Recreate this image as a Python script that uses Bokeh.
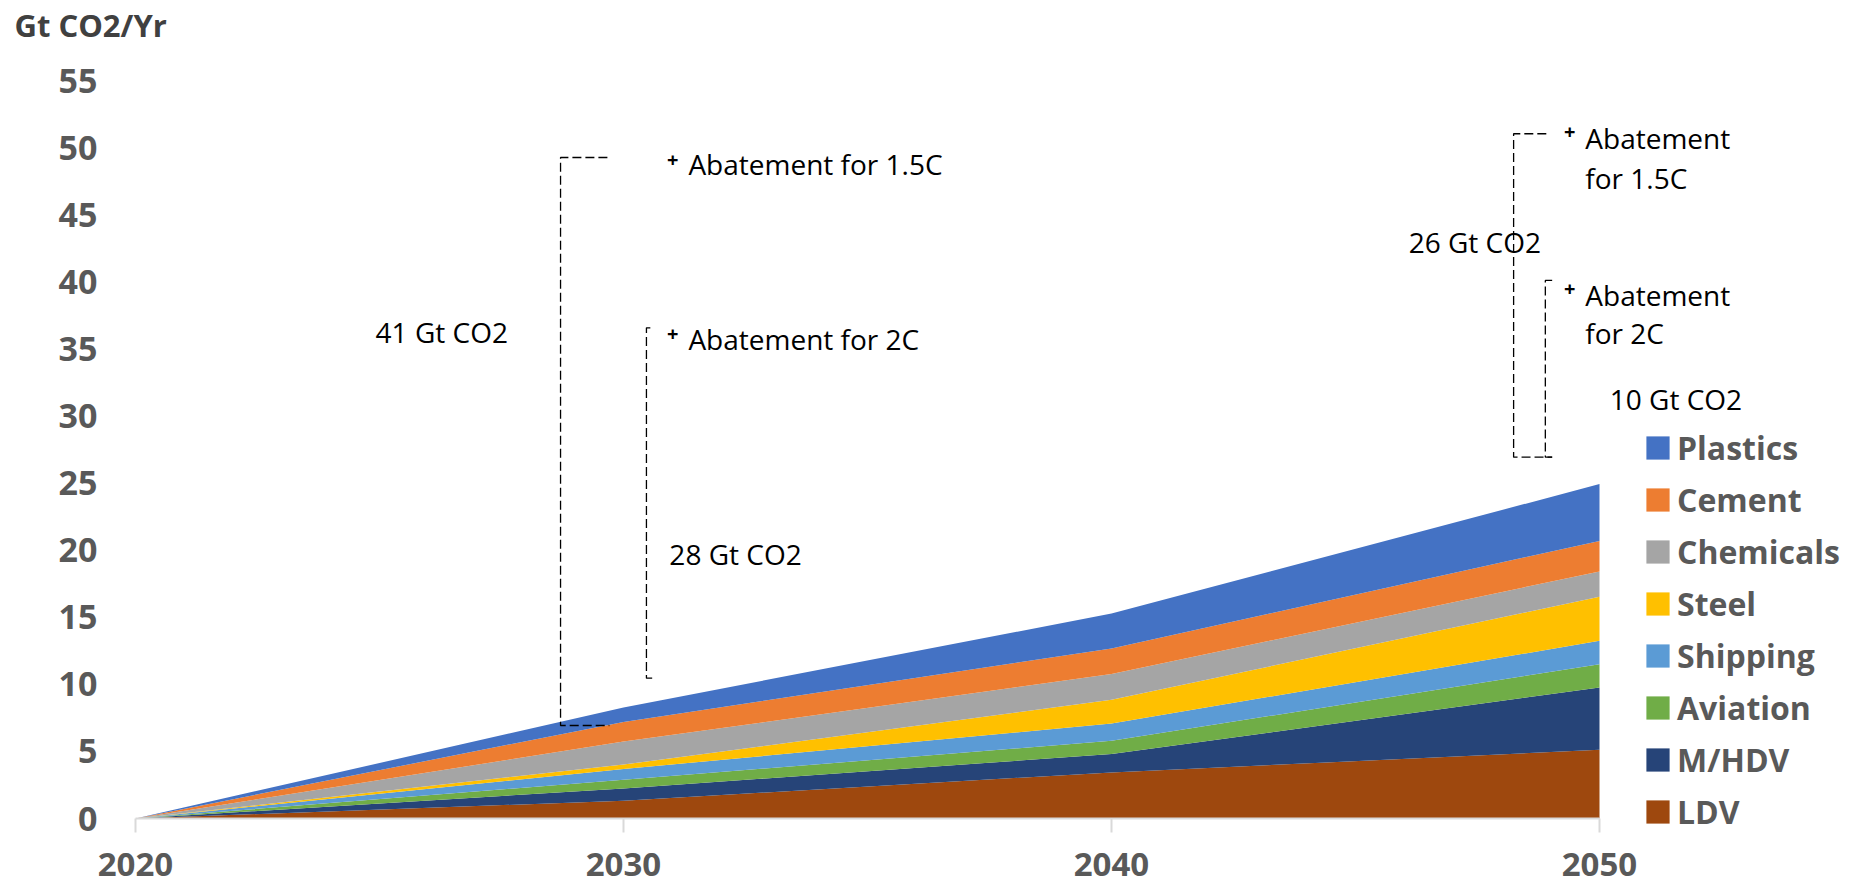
from bokeh.plotting import figure
from bokeh.models import Range1d, FixedTicker, Label, Legend, LegendItem, ColumnDataSource
from bokeh.embed import file_html
from bokeh.resources import INLINE

# ---------------- data ----------------
YEARS = [2020, 2030, 2040, 2050]
SECTORS = ["LDV", "M/HDV", "Aviation", "Shipping", "Steel", "Chemicals", "Cement", "Plastics"]
LDV = [0, 1.33, 3.43, 5.12]
MHDV = [0, 0.91, 1.37, 4.64]
AVIATION = [0, 0.64, 0.99, 1.74]
SHIPPING = [0, 0.81, 1.29, 1.74]
STEEL = [0, 0.33, 1.77, 3.28]
CHEMICALS = [0, 1.71, 1.91, 1.89]
CEMENT = [0, 1.47, 1.91, 2.28]
PLASTICS = [0, 1.07, 2.61, 4.23]
SERIES = [LDV, MHDV, AVIATION, SHIPPING, STEEL, CHEMICALS, CEMENT, PLASTICS]
COLORS = ["#9E480E", "#264478", "#70AD47", "#5B9BD5", "#FFC000", "#A5A5A5", "#ED7D31", "#4472C4"]
Y_TICKS = [0, 5, 10, 15, 20, 25, 30, 35, 40, 45, 50, 55]

# bracket annotations (data units: year, Gt CO2)
BR_2030_15_X = [2029.67, 2028.71, 2028.71, 2029.71]
BR_2030_15_Y = [49.26, 49.26, 6.93, 6.93]
BR_2030_2_X = [2030.55, 2030.47, 2030.47, 2030.61]
BR_2030_2_Y = [36.57, 36.57, 10.46, 10.46]
BR_2050_15_X = [2048.91, 2048.24, 2048.24, 2049.03]
BR_2050_15_Y = [51.03, 51.03, 26.93, 26.93]
BR_2050_2_X = [2049.03, 2048.89, 2048.89, 2049.03]
BR_2050_2_Y = [40.10, 40.10, 26.93, 26.93]

# ---------------- layout ----------------
W, H = 1860, 887
LEFT, BOTTOM, TOP = 135, 69, 80          # pixel position of the 2020/0/55 frame corners
PX_PER_YEAR = 1464 / 30.0
PX_PER_UNIT = (H - BOTTOM - TOP) / 55.0
x0 = YEARS[0] - LEFT / PX_PER_YEAR
x1 = YEARS[0] + (W - LEFT) / PX_PER_YEAR
y0 = -BOTTOM / PX_PER_UNIT
y1 = 55 + TOP / PX_PER_UNIT

src = ColumnDataSource({"year": YEARS, **{s: v for s, v in zip(SECTORS, SERIES)}})

p = figure(width=W, height=H, output_backend="svg", toolbar_location=None,
           x_range=Range1d(x0, x1), y_range=Range1d(y0, y1),
           min_border_left=0, min_border_right=0, min_border_top=0, min_border_bottom=0)
p.outline_line_color = None
p.grid.visible = False
p.background_fill_color = "white"
p.border_fill_color = "white"

renderers = p.varea_stack(stackers=SECTORS, x="year", color=COLORS, source=src)

# base line of the x axis
p.line(x=[YEARS[0], YEARS[-1]], y=[0, 0], line_color="#D9D9D9", line_width=2)

# axes (pinned at 2020 / 0 inside the full-canvas frame)
xa = p.xaxis[0]
xa.fixed_location = 0
xa.ticker = FixedTicker(ticks=YEARS)
xa.axis_line_color = None
xa.major_tick_line_color = "#D9D9D9"
xa.major_tick_line_width = 2
xa.major_tick_out = 14
xa.major_tick_in = 0
xa.minor_tick_line_color = None
xa.major_label_text_font = "Open Sans"
xa.major_label_text_font_style = "bold"
xa.major_label_text_font_size = "33px"
xa.major_label_text_color = "#595959"
xa.major_label_standoff = 20

ya = p.yaxis[0]
ya.fixed_location = YEARS[0]
ya.ticker = FixedTicker(ticks=Y_TICKS)
ya.axis_line_color = None
ya.major_tick_line_color = None
ya.minor_tick_line_color = None
ya.major_tick_out = 0
ya.major_tick_in = 0
ya.major_label_text_font = "Open Sans"
ya.major_label_text_font_style = "bold"
ya.major_label_text_font_size = "34px"
ya.major_label_text_color = "#595959"
ya.major_label_standoff = 38

# brackets
for bx, by in [(BR_2030_15_X, BR_2030_15_Y), (BR_2030_2_X, BR_2030_2_Y),
               (BR_2050_15_X, BR_2050_15_Y), (BR_2050_2_X, BR_2050_2_Y)]:
    p.line(x=bx, y=by, line_color="black", line_width=1.3, line_dash="9 4")

def txt(x, y, t, size="28px", bold=False, align="left", color="black"):
    p.add_layout(Label(x=x, y=y, text=t, text_font="Open Sans", text_font_size=size,
                       text_font_style="bold" if bold else "normal", text_color=color,
                       text_align=align, text_baseline="middle"))

txt(2024.92, 36.24, "41 Gt CO2")
txt(2031.01, 49.04, "+", size="20px", bold=True, align="center")
txt(2031.33, 48.79, "Abatement for 1.5C")
txt(2031.01, 36.12, "+", size="20px", bold=True, align="center")
txt(2031.33, 35.70, "Abatement for 2C")
txt(2030.94, 19.68, "28 Gt CO2")
txt(2046.09, 42.93, "26 Gt CO2")
txt(2049.39, 51.13, "+", size="20px", bold=True, align="center")
txt(2049.71, 50.68, "Abatement")
txt(2049.71, 47.77, "for 1.5C")
txt(2049.39, 39.48, "+", size="20px", bold=True, align="center")
txt(2049.71, 38.98, "Abatement")
txt(2049.71, 36.15, "for 2C")
txt(2050.21, 31.30, "10 Gt CO2")

# unit label
txt(2017.52, 59.10, "Gt CO2/Yr", size="31px", bold=True, color="#404040")

# legend
items = [LegendItem(label=s, renderers=[r]) for s, r in zip(SECTORS, renderers)][::-1]
leg = Legend(items=items, location=(1643, 54), padding=0, margin=0,
             border_line_color=None, background_fill_alpha=0,
             glyph_width=29, glyph_height=29, spacing=9,
             label_standoff=5, label_text_font="Open Sans", label_text_font_style="bold",
             label_text_font_size="32px", label_text_color="#595959")
p.add_layout(leg)

open("out.html", "w").write(file_html(p, INLINE))
